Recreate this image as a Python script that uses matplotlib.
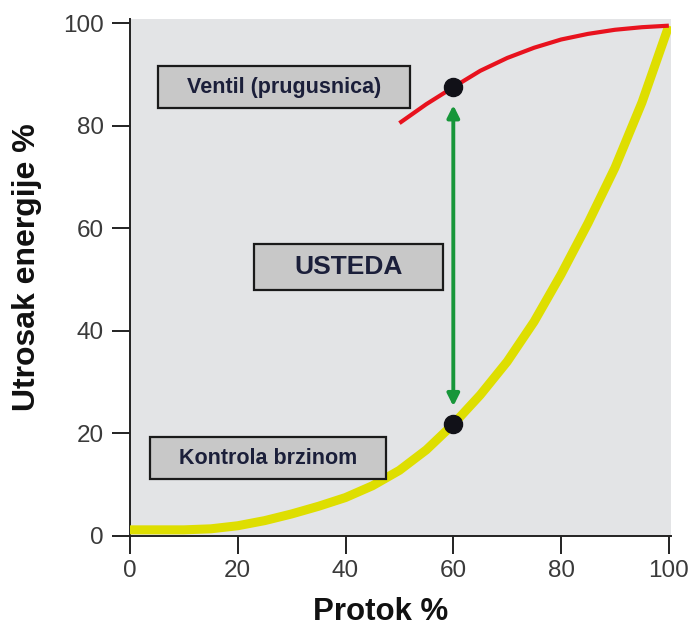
import matplotlib
matplotlib.use("Agg")
import matplotlib.pyplot as plt
from matplotlib.patches import Rectangle

plt.rcParams['font.family'] = ['Liberation Sans', 'DejaVu Sans']

# Data
speed_x = [0, 5, 10, 15, 20, 25, 30, 35, 40, 45, 50, 55, 60, 65, 70, 75, 80, 85, 90, 95, 100]
speed_y = [1.2, 1.2, 1.2, 1.4, 2.0, 3.0, 4.3, 5.8, 7.5, 9.8, 12.8, 16.8, 21.8, 27.5, 34.0, 41.8, 51.0, 61.0, 71.8, 84.5, 99.5]
valve_x = [50, 55, 60, 65, 70, 75, 80, 85, 90, 95, 100]
valve_y = [80.5, 84.2, 87.5, 90.7, 93.2, 95.2, 96.8, 97.9, 98.7, 99.2, 99.5]
point_x = 60
point_low = 21.8
point_high = 87.5
x_ticks = [0, 20, 40, 60, 80, 100]
y_ticks = [0, 20, 40, 60, 80, 100]
labels = ["Ventil (prugusnica)", "USTEDA", "Kontrola brzinom"]

fig = plt.figure(figsize=(6.93, 6.27), dpi=100)
ax = fig.add_axes([130/693, 91/627, 541/693, 517/627])
ax.set_facecolor('#e3e4e6')
ax.set_xlim(0, 100.4)
ax.set_ylim(0, 100.8)

ax.plot(speed_x, speed_y, color='#dede00', lw=6.5, solid_capstyle='butt',
        solid_joinstyle='round', zorder=3)
ax.plot(valve_x, valve_y, color='#e8121e', lw=3, solid_capstyle='butt',
        solid_joinstyle='round', zorder=3)

ax.annotate('', xy=(point_x, point_high - 3.5), xytext=(point_x, point_low + 3.5),
            arrowprops=dict(arrowstyle='<|-|>', color='#17963a', lw=2.8,
                            mutation_scale=18, shrinkA=0, shrinkB=0), zorder=4)
ax.plot([point_x, point_x], [point_low, point_high], 'o', color='#111118', ms=13, zorder=5)

boxes = [(5.2, 83.4, 46.8, 8.2, 15.5), (23.0, 48.0, 35.0, 9.0, 19), (3.7, 11.1, 43.8, 8.2, 15.5)]
for (x0, y0, w, h, fs), lab in zip(boxes, labels):
    ax.add_patch(Rectangle((x0, y0), w, h, facecolor='#c8c8c8', edgecolor='#1a1a1a', lw=1.6, zorder=4))
    ax.text(x0 + w / 2, y0 + h / 2, lab, ha='center', va='center', fontsize=fs,
            fontweight='bold', color='#1b1f3a', zorder=5)

for s in ['top', 'right']:
    ax.spines[s].set_visible(False)
for s in ['left', 'bottom']:
    ax.spines[s].set_color('#222222')
    ax.spines[s].set_linewidth(1.4)
ax.set_xticks(x_ticks)
ax.set_yticks(y_ticks)
ax.tick_params(direction='out', length=13, width=1.4, color='#222222',
               labelsize=17.5, labelcolor='#3a3a3a')
ax.tick_params(axis='x', pad=4)
ax.tick_params(axis='y', pad=6)
ax.set_xlabel('Protok %', fontsize=22.5, fontweight='bold', color='#111111')
ax.set_ylabel('Utrosak energije %', fontsize=23, fontweight='bold', color='#111111')
ax.xaxis.set_label_coords(0.464, -0.118)
ax.yaxis.set_label_coords(-0.162, 0.52)

fig.savefig('out.png', dpi=100, facecolor='white')
